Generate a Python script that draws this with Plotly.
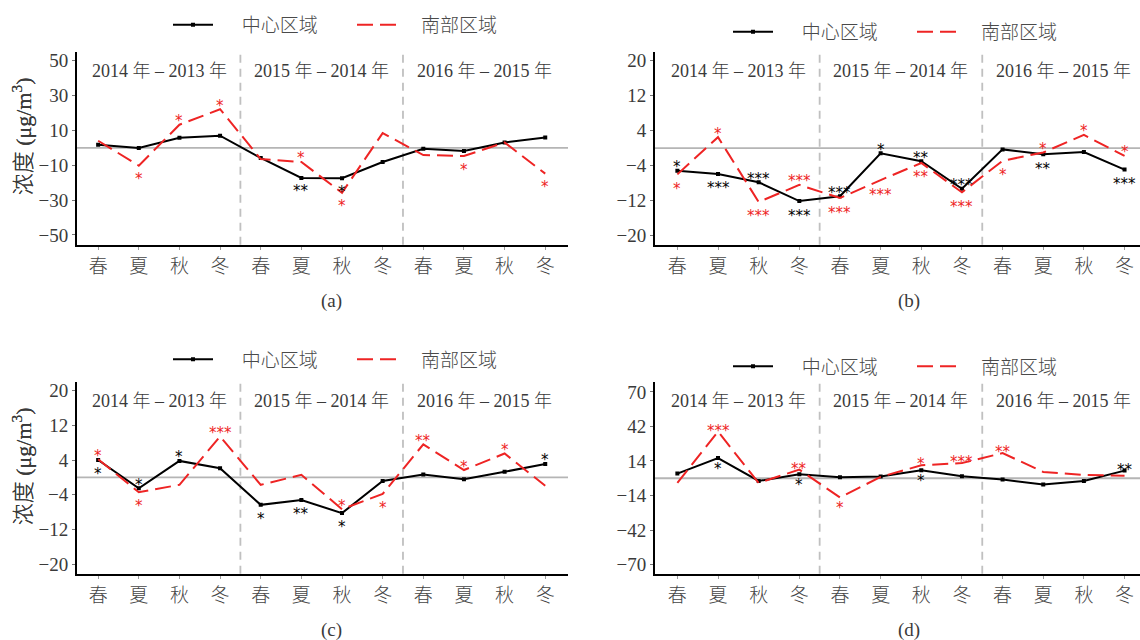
import plotly.graph_objects as go

# ---- data ---------------------------------------------------------------
seasons = ["春", "夏", "秋", "冬"] * 3
periods = ["2014 年 – 2013 年", "2015 年 – 2014 年", "2016 年 – 2015 年"]
series_names = ["中心区域", "南部区域"]
panel_tags = ["(a)", "(b)", "(c)", "(d)"]

center_a = [1.8, 0.0, 5.8, 7.0, -5.8, -17.3, -17.4, -8.1, -0.5, -1.8, 3.1, 6.0]
south_a = [4.1, -10.2, 13.3, 22.2, -6.4, -8.1, -25.8, 8.5, -4.1, -4.7, 3.1, -14.8]
center_a_sig = ["", "", "", "", "", "**", "*", "", "", "", "", ""]
south_a_sig = ["", "*", "*", "*", "", "*", "*", "", "", "*", "", "*"]

center_b = [-5.2, -5.9, -7.8, -12.1, -11.0, -1.2, -3.0, -9.3, -0.3, -1.4, -0.9, -4.9]
south_b = [-6.0, 2.5, -12.3, -8.4, -11.4, -7.3, -3.4, -10.1, -2.9, -1.0, 3.0, -1.8]
center_b_sig = ["*", "***", "***", "***", "***", "*", "**", "***", "", "**", "", "***"]
south_b_sig = ["*", "*", "***", "***", "***", "***", "**", "***", "*", "*", "*", "*"]

center_c = [4.0, -2.5, 3.8, 2.1, -6.3, -5.2, -8.2, -0.8, 0.7, -0.4, 1.3, 3.1]
south_c = [4.2, -3.4, -1.7, 9.4, -1.7, 0.6, -7.3, -3.8, 7.6, 1.7, 5.5, -1.9]
center_c_sig = ["*", "*", "*", "", "*", "**", "*", "", "", "", "", "*"]
south_c_sig = ["*", "*", "", "***", "", "", "*", "*", "**", "*", "*", ""]

center_d = [3.8, 16.4, -2.2, 3.2, 0.8, 1.4, 6.5, 1.6, -1.0, -5.1, -2.2, 6.2]
south_d = [-3.8, 37.9, -3.8, 7.0, -15.6, 1.1, 10.5, 12.3, 20.4, 5.1, 2.7, 2.0]
center_d_sig = ["", "*", "", "*", "", "", "*", "", "", "", "", "**"]
south_d_sig = ["", "***", "", "**", "*", "", "*", "***", "**", "", "", ""]

ticks_a = [-50, -30, -10, 10, 30, 50]
ticks_b = [-20, -12, -4, 4, 12, 20]
ticks_c = [-20, -12, -4, 4, 12, 20]
ticks_d = [-70, -42, -14, 14, 42, 70]

# which side of the line each significance mark sits on (1 above, -1 below)
center_a_side = [0, 0, 0, 0, 0, -1, -1, 0, 0, 0, 0, 0]
south_a_side = [0, -1, 1, 1, 0, 1, -1, 0, 0, -1, 0, -1]
center_b_side = [1, -1, 1, -1, 1, 1, 1, 1, 0, -1, 0, -1]
south_b_side = [-1, 1, -1, 1, -1, -1, -1, -1, -1, 1, 1, 1]
center_c_side = [-1, 1, 1, 0, -1, -1, -1, 0, 0, 0, 0, 1]
south_c_side = [1, -1, 0, 1, 0, 0, 1, -1, 1, 1, 1, 0]
center_d_side = [0, -1, 0, -1, 0, 0, -1, 0, 0, 0, 0, 1]
south_d_side = [0, 1, 0, 1, -1, 0, 1, 1, 1, 0, 0, 0]

# ---- page geometry (pixels) --------------------------------------------
W, H = 1140, 640
BLACK = "#000000"
RED = "#ee2424"
TEXT = "#3a3a3a"
SERIF = "Liberation Serif, Noto Sans CJK SC"
CJK = "Noto Sans CJK SC"
# gap between each legend line sample and its entry text
LEGEND_PAD = ["\u3000\u2005", "\u3000"]

panels = [
    dict(center=center_a, south=south_a, csig=center_a_sig, ssig=south_a_sig,
         cside=center_a_side, sside=south_a_side, ticks=ticks_a,
         px=(77, 568), py=(50, 244), xr=[-0.52, 11.56], yr=[-55.7, 55.2],
         leg=(168, 23), above=-7.5, below=9.5),
    dict(center=center_b, south=south_b, csig=center_b_sig, ssig=south_b_sig,
         cside=center_b_side, sside=south_b_side, ticks=ticks_b,
         px=(655, 1140), py=(50, 244), xr=[-0.55, 11.38], yr=[-22.1, 22.0],
         leg=(728, 30), above=-7.5, below=10.5),
    dict(center=center_c, south=south_c, csig=center_c_sig, ssig=south_c_sig,
         cside=center_c_side, sside=south_c_side, ticks=ticks_c,
         px=(77, 568), py=(381.5, 574.5), xr=[-0.52, 11.56], yr=[-22.15, 22.0],
         leg=(168, 359), above=-7.5, below=10.0),
    dict(center=center_d, south=south_d, csig=center_d_sig, ssig=south_d_sig,
         cside=center_d_side, sside=south_d_side, ticks=ticks_d,
         px=(655, 1140), py=(381.5, 574.5), xr=[-0.55, 11.38], yr=[-77.5, 78.3],
         leg=(728, 366), above=-5.0, below=7.0),
]

fig = go.Figure()
layout = dict(
    width=W, height=H, margin=dict(l=0, r=0, t=0, b=0),
    paper_bgcolor="white", plot_bgcolor="white",
    font=dict(family=SERIF, color=TEXT),
    shapes=[], annotations=[],
)

xs = list(range(12))

for i, p in enumerate(panels):
    n = "" if i == 0 else str(i + 1)
    xa, ya = "x" + n, "y" + n
    leg_name = "legend" + n

    layout["xaxis" + n] = dict(
        domain=[p["px"][0] / W, p["px"][1] / W], range=p["xr"],
        anchor=ya, tickmode="array", tickvals=xs, ticktext=seasons,
        showgrid=False, zeroline=False, showline=True,
        linecolor=BLACK, linewidth=2, ticks="outside", ticklen=3,
        tickcolor="#9a9a9a", tickwidth=1,
        tickfont=dict(family=CJK, size=19, color="#454545", weight=300),
    )
    layout["yaxis" + n] = dict(
        domain=[1 - p["py"][1] / H, 1 - p["py"][0] / H], range=p["yr"],
        anchor=xa, tickmode="array", tickvals=p["ticks"],
        showgrid=False, zeroline=False, showline=True,
        linecolor=BLACK, linewidth=2, ticks="outside", ticklen=3,
        tickcolor="#777777", tickwidth=1,
        tickfont=dict(family=SERIF, size=19, color=TEXT),
    )

    # zero reference line and period dividers
    layout["shapes"].append(dict(
        type="line", xref=xa + " domain", yref=ya, x0=0, x1=1, y0=0, y1=0,
        line=dict(color="#b5b5b5", width=1.8), layer="below"))
    for xd in (3.5, 7.5):
        layout["shapes"].append(dict(
            type="line", xref=xa, yref=ya + " domain", x0=xd, x1=xd, y0=0, y1=1,
            line=dict(color="#c0c0c0", width=1.8, dash="8px,6px"), layer="below"))

    # period labels above each group of four seasons
    label_y = p["py"][0] + 19
    for k, text in enumerate(periods):
        layout["annotations"].append(dict(
            x=1.5 + 4 * k, y=1 - label_y / H, xref=xa, yref="paper",
            text=text, showarrow=False, xanchor="center", yanchor="middle",
            font=dict(family=SERIF, size=18, color=TEXT, weight=300)))

    # y-axis title
    layout["annotations"].append(dict(
        x=22 / W, y=1 - (p["py"][0] + 85) / H, xref="paper", yref="paper",
        text="浓度 (μg/m<sup>3</sup>)", textangle=-90, showarrow=False,
        xanchor="center", yanchor="middle",
        font=dict(family=SERIF, size=22, color=TEXT, weight=300)))

    # panel caption
    layout["annotations"].append(dict(
        x=(p["px"][0] + 254) / W, y=1 - (p["py"][1] + 56) / H,
        xref="paper", yref="paper", text=panel_tags[i], showarrow=False,
        xanchor="center", yanchor="middle",
        font=dict(family=SERIF, size=19, color=TEXT)))

    # series
    fig.add_trace(go.Scatter(
        x=xs, y=p["center"], xaxis=xa, yaxis=ya,
        name=LEGEND_PAD[0] + series_names[0],
        mode="lines+markers", line=dict(color=BLACK, width=2),
        marker=dict(symbol="square", size=4, color=BLACK),
        legend=leg_name, showlegend=True))
    fig.add_trace(go.Scatter(
        x=xs, y=p["south"], xaxis=xa, yaxis=ya,
        name=LEGEND_PAD[1] + series_names[1],
        mode="lines", line=dict(color=RED, width=2, dash="16px,7px"),
        legend=leg_name, showlegend=True))

    # significance marks
    for vals, sigs, sides, col in ((p["center"], p["csig"], p["cside"], BLACK),
                                   (p["south"], p["ssig"], p["sside"], RED)):
        for k in range(12):
            if not sigs[k]:
                continue
            d = p["above"] if sides[k] > 0 else p["below"]
            layout["annotations"].append(dict(
                x=xs[k], y=vals[k], xref=xa, yref=ya, text=sigs[k],
                showarrow=False, xanchor="center", yanchor="middle",
                yshift=-d - 4,
                font=dict(family="DejaVu Sans", size=15, color=col)))

    layout[leg_name] = dict(
        orientation="h", x=p["leg"][0] / W, y=1 - p["leg"][1] / H,
        xref="paper", yref="paper", xanchor="left", yanchor="middle",
        bgcolor="rgba(0,0,0,0)",
        font=dict(family=CJK, size=19, color="#4a4a4a", weight=300),
        itemwidth=40, entrywidth=129, entrywidthmode="pixels",
        tracegroupgap=0,
    )

fig.update_layout(**layout)
fig.write_html("out.html")
